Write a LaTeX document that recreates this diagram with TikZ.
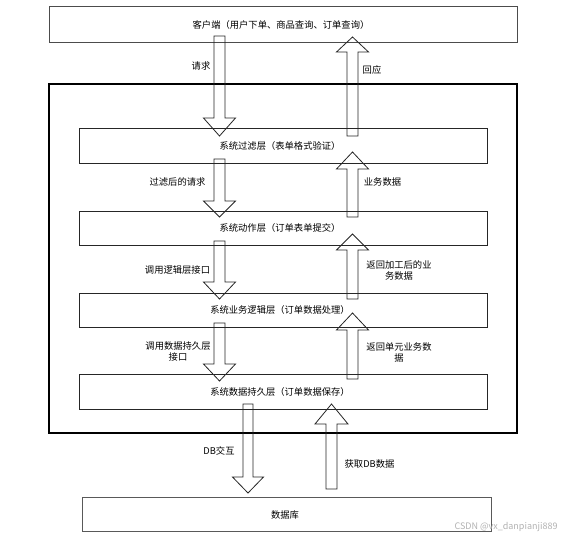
\documentclass[tikz,border=0pt]{standalone}
\usepackage{fontspec}
\setmainfont{Noto Sans CJK SC}
\begin{document}
\begin{tikzpicture}[x=1pt,y=-1pt,
  layerbox/.style={draw=black!85,line width=0.8pt,fill=none},
  outerframe/.style={draw=black,line width=2pt},
  blockarrow/.style={draw=black!85,line width=0.8pt},
  lbl/.style={font=\fontsize{9.3pt}{11pt}\selectfont,inner sep=0pt,align=center},
  wm/.style={font=\fontsize{9pt}{11pt}\selectfont,text=black!30,inner sep=0pt}]
\useasboundingbox (0,0) rectangle (572,540);
\fill[white] (0,0) rectangle (572,540);
\newcommand\blockdn[6]{% cx, top, base, tip, shaft half, head half
  \draw[blockarrow] ({#1-#5},#2) -- ({#1+#5},#2) -- ({#1+#5},#3) -- ({#1+#6},#3) -- (#1,#4) -- ({#1-#6},#3) -- ({#1-#5},#3) -- cycle;}
% boxes
\draw[layerbox,draw=black!70] (49,6) rectangle (517,42);
\node[lbl] (client) at (281,24.5) {客户端（用户下单、商品查询、订单查询）};
\draw[outerframe] (49,84) rectangle (517,433);
\draw[layerbox] (79,128) rectangle (487,163);
\node[lbl] (filter) at (280,146) {系统过滤层（表单格式验证）};
\draw[layerbox] (79,211) rectangle (487,245);
\node[lbl] (action) at (280,228) {系统动作层（订单表单提交）};
\draw[layerbox] (79,293) rectangle (487,327);
\node[lbl] (logic) at (280,310) {系统业务逻辑层（订单数据处理）};
\draw[layerbox] (79,374) rectangle (487,409);
\node[lbl] (persist) at (280,391.5) {系统数据持久层（订单数据保存）};
\draw[layerbox,draw=black!65] (82,497) rectangle (491,531);
\node[lbl] (db) at (285,514.5) {数据库};
% down arrows
\blockdn{219.5}{36}{118}{136}{5.5}{16}
\blockdn{219.5}{159}{201}{217}{5.5}{16}
\blockdn{219.5}{241}{282}{299}{5.5}{16}
\blockdn{219.5}{323}{364}{381}{5.5}{16}
\blockdn{248}{404}{477}{493}{5}{15.5}
% up arrows
\blockdn{352.5}{136}{52}{37}{5.5}{16}
\blockdn{352.5}{217}{169}{152}{5.5}{16}
\blockdn{352.5}{299}{250}{234}{5.5}{16}
\blockdn{352.5}{379}{330}{313}{5.5}{16}
\blockdn{331.5}{489}{424}{404}{5.5}{16.5}
% labels
\node[lbl] (l1) at (201,66) {请求};
\node[lbl] (r1) at (372,70) {回应};
\node[lbl] (l2) at (177.5,182) {过滤后的请求};
\node[lbl] (r2) at (382.5,182) {业务数据};
\node[lbl] (l3) at (177.5,270) {调用逻辑层接口};
\node[lbl] (r3) at (399,270.5) {返回加工后的业\\务数据};
\node[lbl] (l4) at (178,351.5) {调用数据持久层\\接口};
\node[lbl] (r4) at (399,352.5) {返回单元业务数\\据};
\node[lbl] (l5) at (219,450.5) {DB交互};
\node[lbl] (r5) at (369.5,464) {获取DB数据};
\node[wm] (wm) at (506,527.5) {CSDN @vx\_danpianji889};
\end{tikzpicture}
\end{document}
